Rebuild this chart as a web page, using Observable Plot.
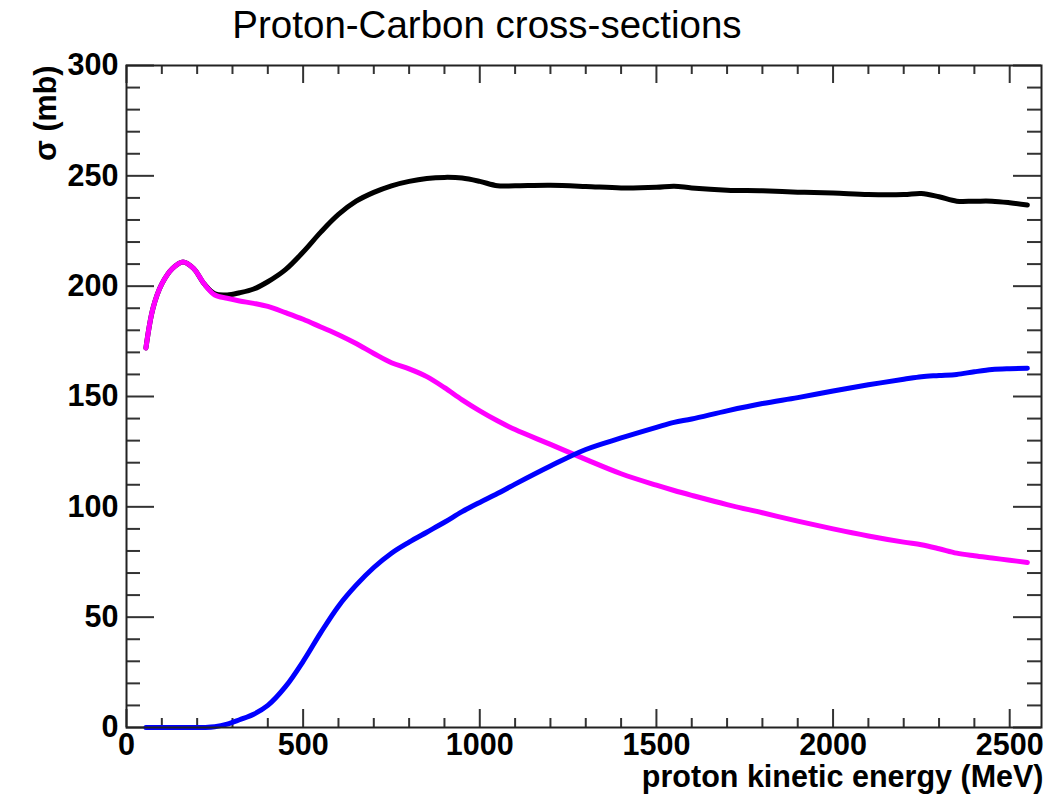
<!DOCTYPE html>
<html>
<head>
<meta charset="utf-8">
<script src="https://cdn.jsdelivr.net/npm/d3@7"></script>
<script src="https://cdn.jsdelivr.net/npm/@observablehq/plot@0.6"></script>
<style>
  body { margin: 0; background: #fff; font-family: "Liberation Sans", Arial, Helvetica, sans-serif; }
  #title { box-sizing: border-box; height: 50px; width: 974px; padding-top: 6px; text-align: center;
           font-size: 38.5px; line-height: 38px; color: #000; }
  svg { display: block; }
</style>
</head>
<body>
<div id="title">Proton-Carbon cross-sections</div>
<div id="chart"></div>
<script>
// Proton kinetic energy (MeV)
const energy = [55, 75, 100, 130, 160, 190, 220, 250, 285, 320, 360, 400, 450, 500, 550, 600, 650, 700, 750, 800,
  850, 900, 950, 1000, 1050, 1100, 1200, 1300, 1400, 1500, 1550, 1600, 1700, 1800, 1900, 2000, 2100, 2200, 2250,
  2300, 2350, 2400, 2450, 2500, 2550];
// Total cross-section (black), mb
const totalXS = [172, 190, 201, 208, 211, 208, 201, 196.5, 196, 197, 198.7, 202, 207.5, 215.5, 224.5, 232.5, 238.5, 242.5,
  245.5, 247.5, 248.8, 249.3, 249, 247.5, 245.5, 245.5, 245.7, 245.2, 244.5, 244.8, 245.3, 244.5, 243.5, 243.2,
  242.6, 242.2, 241.5, 241.5, 242, 240.5, 238.5, 238.5, 238.5, 237.8, 236.8];
// Magenta curve, mb
const magentaXS = [172, 190, 201, 208, 211, 208, 201, 196, 194.5, 193.3, 192.2, 190.8, 188, 185, 181.5, 178, 174,
  169.5, 165.3, 162.5, 159, 154, 148.5, 143.5, 139, 135, 128.3, 121.5, 115, 109.8, 107.4, 105.2, 101, 97.3, 93.5,
  90, 86.8, 84, 82.8, 81, 79, 77.8, 76.8, 75.8, 74.8];
// Blue curve, mb
const blueXS = [0, 0, 0, 0, 0, 0, 0, 0.3, 1.5, 3.5, 6, 10, 18.5, 30, 43, 55, 64.5, 72.5, 79, 84, 88.5, 93, 97.8,
  102, 106, 110.3, 118.5, 126, 131.2, 136, 138.3, 139.8, 143.5, 146.8, 149.5, 152.5, 155.3, 157.8, 159, 159.5, 160,
  161.2, 162.2, 162.6, 162.8];

const seriesNames = ["total", "magenta", "blue"];
const seriesColors = ["#000000", "#c800ff", "#0000ff"];

const xMajor = [0, 500, 1000, 1500, 2000, 2500];
const xMinor = d3.range(100, 2600, 100).filter(v => v % 500 !== 0);
const yMajor = [0, 50, 100, 150, 200, 250, 300];
const yMinor = d3.range(10, 300, 10).filter(v => v % 50 !== 0);

const xTitle = "proton kinetic energy (MeV)";
const yTitle = "σ (mb)";

const W = 1048, H = 752;
const mt = 15, mb = 75, ml = 126, mr = 7;
const fw = W - ml - mr, fh = H - mt - mb;

const rows = (vals, name) => energy.map((e, i) => ({E: e, xs: vals[i], s: name}));
const data = [...rows(totalXS, "total"), ...rows(magentaXS, "magenta"), ...rows(blueXS, "blue")];

const tickStroke = "#333";
const lab = {fontSize: 30.5, fontWeight: "bold", fill: "#000"};

const chart = Plot.plot({
  width: W, height: H,
  marginTop: mt, marginBottom: mb, marginLeft: ml, marginRight: mr,
  x: {domain: [0, 2590], axis: null},
  y: {domain: [0, 300], axis: null},
  color: {domain: seriesNames, range: seriesColors},
  style: {fontFamily: '"Liberation Sans", Arial, Helvetica, sans-serif', background: "#fff", color: "#000", overflow: "visible"},
  marks: [
    // bottom ticks
    Plot.tickX(xMinor, {x: d => d, insetTop: fh - 9, stroke: tickStroke, strokeWidth: 2}),
    Plot.tickX(xMajor, {x: d => d, insetTop: fh - 18, stroke: tickStroke, strokeWidth: 2}),
    // top ticks
    Plot.tickX(xMinor, {x: d => d, insetBottom: fh - 9, stroke: tickStroke, strokeWidth: 2}),
    Plot.tickX(xMajor, {x: d => d, insetBottom: fh - 18, stroke: tickStroke, strokeWidth: 2}),
    // left ticks
    Plot.tickY(yMinor, {y: d => d, insetRight: fw - 14, stroke: tickStroke, strokeWidth: 2}),
    Plot.tickY(yMajor, {y: d => d, insetRight: fw - 28, stroke: tickStroke, strokeWidth: 2}),
    // right ticks
    Plot.tickY(yMinor, {y: d => d, insetLeft: fw - 14, stroke: tickStroke, strokeWidth: 2}),
    Plot.tickY(yMajor, {y: d => d, insetLeft: fw - 28, stroke: tickStroke, strokeWidth: 2}),
    // curves
    Plot.line(data.filter(d => d.s === "total"), {x: "E", y: "xs", stroke: "s", strokeWidth: 5, curve: "catmull-rom"}),
    Plot.line(data.filter(d => d.s === "magenta"), {x: "E", y: "xs", stroke: "s", strokeWidth: 5, curve: "catmull-rom"}),
    Plot.line(data.filter(d => d.s === "blue"), {x: "E", y: "xs", stroke: "s", strokeWidth: 5, curve: "catmull-rom"}),
    // tick labels
    Plot.text(xMajor, {x: d => d, text: d => String(d), frameAnchor: "bottom", dy: 6, lineAnchor: "top", ...lab}),
    Plot.text(yMajor, {y: d => d, text: d => String(d), frameAnchor: "left", dx: -8, textAnchor: "end", lineAnchor: "middle", ...lab}),
    // axis titles
    Plot.text([xTitle], {text: d => d, frameAnchor: "bottom-right", textAnchor: "end", lineAnchor: "bottom", dx: 2, dy: 59, ...lab}),
    Plot.text([yTitle], {text: d => d, frameAnchor: "top-left", textAnchor: "end", lineAnchor: "middle", rotate: -90, dx: -80, dy: 0, ...lab}),
    Plot.frame({stroke: "#222", strokeWidth: 2})
  ]
});
document.getElementById("chart").appendChild(chart);
</script>
</body>
</html>
